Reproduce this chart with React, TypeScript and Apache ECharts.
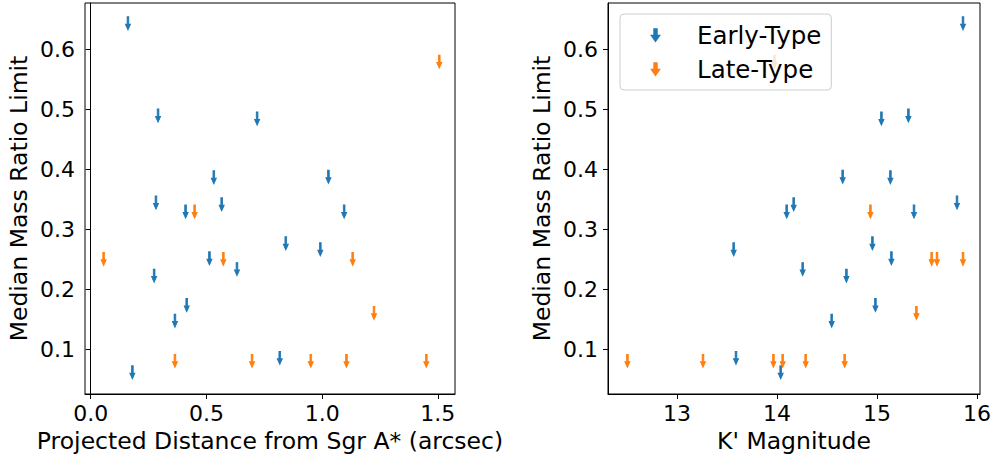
import React, { useEffect, useRef } from "react";
import * as echarts from "echarts";

// Early-type stars: projected distance (arcsec), K' magnitude, median mass ratio limit
const earlyDist = [0.161, 0.291, 0.719, 0.532, 1.027, 0.282, 0.41, 0.566, 1.095, 0.513, 0.632, 0.843, 0.992, 0.274, 0.415, 0.364, 0.18, 0.817];
const earlyKmag = [15.86, 15.314, 15.044, 15.134, 14.657, 15.8, 14.097, 14.167, 15.37, 15.144, 14.257, 14.954, 13.567, 14.694, 14.984, 14.547, 14.037, 13.59];
const earlyLimit = [0.643, 0.489, 0.484, 0.386, 0.387, 0.344, 0.329, 0.341, 0.329, 0.251, 0.233, 0.276, 0.266, 0.222, 0.173, 0.147, 0.061, 0.085];

// Late-type stars (left panel)
const lateDist = [1.506, 0.449, 0.056, 0.573, 1.132, 1.224, 0.364, 0.697, 0.951, 1.105, 1.45];
const lateDistLimit = [0.579, 0.329, 0.25, 0.25, 0.25, 0.16, 0.08, 0.08, 0.08, 0.08, 0.08];
// Late-type stars (right panel)
const lateKmag = [13.975, 14.934, 15.547, 15.6, 15.86, 15.394, 12.504, 13.26, 13.964, 14.057, 14.287, 14.677];
const lateKmagLimit = [0.579, 0.329, 0.25, 0.25, 0.25, 0.16, 0.08, 0.08, 0.08, 0.08, 0.08, 0.08];

const distTicks = [0, 0.5, 1.0, 1.5];
const kmagTicks = [13, 14, 15, 16];
const ratioTicks = [0.1, 0.2, 0.3, 0.4, 0.5, 0.6];

const seriesNames = ["Early-Type", "Late-Type"];
const BLUE = "#1f77b4";
const ORANGE = "#ff7f0e";
const FONT = "DejaVu Sans";
const ARROW = "path://M2.6,0 L5.4,0 L5.4,7.4 L8,7.4 L4,13 L0,7.4 L2.6,7.4 Z";

const zip = (xs: number[], ys: number[]) => xs.map((x, i) => [x, ys[i]]);

export default function App() {
  const ref = useRef<HTMLDivElement>(null);
  useEffect(() => {
    if (!ref.current) return;
    const chart = echarts.init(ref.current, undefined, { renderer: "svg" });
    const axisCommon = {
      type: "value" as const,
      nameLocation: "middle" as const,
      nameTextStyle: { fontSize: 23.5, color: "#000", fontFamily: FONT },
      axisLine: { show: true, lineStyle: { color: "#000", width: 1 } },
      splitLine: { show: false },
    };
    const xAxis = (gi: number, min: number, max: number, name: string, ticks: number[], fmt: (v: number) => string) => ({
      ...axisCommon,
      gridIndex: gi,
      min,
      max,
      name,
      nameGap: 35,
      axisTick: { show: true, length: 5, inside: false, lineStyle: { color: "#000" }, customValues: ticks },
      axisLabel: { customValues: ticks, formatter: fmt, fontSize: 22, color: "#000", fontFamily: FONT, margin: 8 },
    });
    const yAxis = (gi: number) => ({
      ...axisCommon,
      gridIndex: gi,
      min: 0.025,
      max: 0.677,
      name: "Median Mass Ratio Limit",
      nameGap: 54,
      axisTick: { show: true, length: 5, lineStyle: { color: "#000" }, customValues: ratioTicks },
      axisLabel: { customValues: ratioTicks, formatter: (v: number) => v.toFixed(1), fontSize: 22, color: "#000", fontFamily: FONT, margin: 10 },
    });
    const sc = (name: string, color: string, gi: number, data: number[][]) => ({
      type: "scatter" as const,
      name,
      xAxisIndex: gi,
      yAxisIndex: gi,
      data,
      symbol: ARROW,
      symbolSize: [8, 13],
      symbolKeepAspect: true,
      itemStyle: { color, opacity: 1, borderColor: color, borderWidth: 1 },
      emphasis: { disabled: true },
    });
    chart.setOption({
      animation: false,
      textStyle: { fontFamily: FONT },
      grid: [
        { left: 85, top: 3, width: 370, height: 391, show: true, borderColor: "#000", borderWidth: 1, backgroundColor: "transparent", outerBoundsMode: "none", containLabel: false },
        { left: 608, top: 3, width: 372, height: 391, show: true, borderColor: "#000", borderWidth: 1, backgroundColor: "transparent", outerBoundsMode: "none", containLabel: false },
      ],
      xAxis: [
        xAxis(0, -0.0246, 1.574, "Projected Distance from Sgr A* (arcsec)", distTicks, (v: number) => v.toFixed(1)),
        xAxis(1, 12.31, 16.03, "K' Magnitude", kmagTicks, (v: number) => String(Math.round(v))),
      ],
      yAxis: [yAxis(0), yAxis(1)],
      legend: {
        data: seriesNames,
        orient: "vertical",
        left: 620,
        top: 14,
        padding: [8, 10, 8, 31],
        itemWidth: 7,
        itemHeight: 12,
        itemGap: 8,
        backgroundColor: "rgba(255,255,255,0.8)",
        borderColor: "#cccccc",
        borderWidth: 1,
        borderRadius: 4,
        textStyle: { fontSize: 24.5, color: "#000", fontFamily: FONT, lineHeight: 26, padding: [0, 0, 0, 33] },
        selectedMode: false,
      },
      series: [
        sc(seriesNames[0], BLUE, 0, zip(earlyDist, earlyLimit)),
        sc(seriesNames[1], ORANGE, 0, zip(lateDist, lateDistLimit)),
        sc(seriesNames[0], BLUE, 1, zip(earlyKmag, earlyLimit)),
        sc(seriesNames[1], ORANGE, 1, zip(lateKmag, lateKmagLimit)),
      ],
    });
    return () => chart.dispose();
  }, []);
  return <div ref={ref} style={{ position: "fixed", left: 0, top: 0, width: 995, height: 459, background: "#fff" }} />;
}
